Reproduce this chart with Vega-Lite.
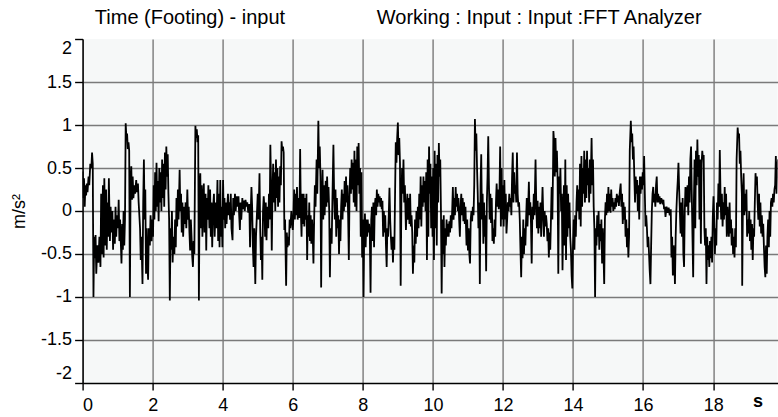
{
  "$schema": "https://vega.github.io/schema/vega-lite/v6.json",
  "width": 695,
  "height": 344,
  "autosize": {"type": "none"},
  "padding": {"left": 82.6, "top": 39, "right": 0, "bottom": 34},
  "background": "white",
  "config": {
    "font": "Liberation Sans",
    "view": {"fill": "#f6f8f8", "stroke": null}
  },
  "layer": [
    {
      "data": {"values": [
        {"t":0.00,"v":0.46},{"t":0.02,"v":0.15},{"t":0.04,"v":0.38},{"t":0.06,"v":0.05},{"t":0.08,"v":0.30},{"t":0.10,"v":0.18},{"t":0.12,"v":0.32},{"t":0.14,"v":0.22},{"t":0.17,"v":0.40},{"t":0.19,"v":0.30},
        {"t":0.22,"v":0.55},{"t":0.25,"v":0.50},{"t":0.27,"v":0.68},{"t":0.29,"v":0.55},{"t":0.31,"v":-1.00},{"t":0.33,"v":-0.30},{"t":0.35,"v":-0.55},{"t":0.37,"v":-0.28},{"t":0.39,"v":-0.73},{"t":0.42,"v":-0.40},
        {"t":0.45,"v":-0.60},{"t":0.48,"v":-0.30},{"t":0.51,"v":-0.65},{"t":0.53,"v":0.20},{"t":0.55,"v":-0.50},{"t":0.58,"v":0.30},{"t":0.60,"v":-0.54},{"t":0.62,"v":0.38},{"t":0.65,"v":-0.40},{"t":0.67,"v":0.25},
        {"t":0.69,"v":-0.45},{"t":0.71,"v":0.10},{"t":0.73,"v":-0.30},{"t":0.75,"v":0.38},{"t":0.78,"v":-0.35},{"t":0.80,"v":0.05},{"t":0.82,"v":-0.25},{"t":0.85,"v":0.00},{"t":0.87,"v":-0.45},{"t":0.89,"v":-0.10},
        {"t":0.92,"v":-0.38},{"t":0.94,"v":0.05},{"t":0.96,"v":-0.30},{"t":0.98,"v":-0.05},{"t":1.01,"v":-0.20},{"t":1.03,"v":0.13},{"t":1.05,"v":-0.35},{"t":1.07,"v":-0.10},{"t":1.09,"v":-0.35},{"t":1.11,"v":-0.61},
        {"t":1.13,"v":-0.15},{"t":1.15,"v":-0.45},{"t":1.17,"v":0.00},{"t":1.19,"v":-0.40},{"t":1.21,"v":-0.10},{"t":1.23,"v":1.02},{"t":1.25,"v":0.85},{"t":1.27,"v":0.90},{"t":1.29,"v":0.72},{"t":1.31,"v":0.80},
        {"t":1.33,"v":0.70},{"t":1.35,"v":-1.00},{"t":1.37,"v":0.30},{"t":1.39,"v":0.52},{"t":1.41,"v":0.13},{"t":1.43,"v":0.40},{"t":1.45,"v":0.15},{"t":1.48,"v":0.30},{"t":1.50,"v":0.20},{"t":1.53,"v":0.36},
        {"t":1.55,"v":0.22},{"t":1.58,"v":0.32},{"t":1.60,"v":0.10},{"t":1.62,"v":-0.05},{"t":1.64,"v":-0.20},{"t":1.66,"v":-0.57},{"t":1.68,"v":-0.30},{"t":1.71,"v":-0.85},{"t":1.73,"v":0.10},{"t":1.75,"v":0.60},
        {"t":1.77,"v":-0.10},{"t":1.79,"v":0.25},{"t":1.81,"v":-0.73},{"t":1.83,"v":-0.20},{"t":1.85,"v":-0.60},{"t":1.87,"v":-0.80},{"t":1.89,"v":-0.20},{"t":1.92,"v":-0.40},{"t":1.94,"v":-0.05},{"t":1.97,"v":-0.35},
        {"t":1.99,"v":-0.10},{"t":2.01,"v":-0.30},{"t":2.03,"v":0.30},{"t":2.05,"v":-0.10},{"t":2.07,"v":0.45},{"t":2.09,"v":0.00},{"t":2.11,"v":0.56},{"t":2.13,"v":0.05},{"t":2.15,"v":0.35},{"t":2.17,"v":-0.12},
        {"t":2.19,"v":0.50},{"t":2.21,"v":0.10},{"t":2.23,"v":0.45},{"t":2.25,"v":0.00},{"t":2.27,"v":0.60},{"t":2.29,"v":0.15},{"t":2.31,"v":0.55},{"t":2.33,"v":0.05},{"t":2.35,"v":0.68},{"t":2.37,"v":0.25},
        {"t":2.39,"v":0.75},{"t":2.41,"v":0.40},{"t":2.43,"v":0.66},{"t":2.45,"v":0.20},{"t":2.47,"v":-0.10},{"t":2.49,"v":-1.04},{"t":2.51,"v":-0.20},{"t":2.53,"v":-0.45},{"t":2.55,"v":0.00},{"t":2.57,"v":-0.60},
        {"t":2.59,"v":-0.30},{"t":2.62,"v":-0.50},{"t":2.64,"v":-0.10},{"t":2.66,"v":-0.42},{"t":2.68,"v":0.15},{"t":2.70,"v":-0.18},{"t":2.72,"v":0.25},{"t":2.74,"v":-0.10},{"t":2.77,"v":0.48},{"t":2.79,"v":0.00},
        {"t":2.81,"v":0.20},{"t":2.83,"v":-0.25},{"t":2.85,"v":0.10},{"t":2.87,"v":-0.30},{"t":2.90,"v":0.05},{"t":2.92,"v":-0.15},{"t":2.94,"v":0.10},{"t":2.96,"v":-0.20},{"t":2.99,"v":0.25},{"t":3.01,"v":-0.10},
        {"t":3.03,"v":0.05},{"t":3.05,"v":-0.25},{"t":3.07,"v":-0.46},{"t":3.09,"v":-0.10},{"t":3.11,"v":-0.30},{"t":3.13,"v":-0.53},{"t":3.15,"v":-0.65},{"t":3.17,"v":-0.35},{"t":3.19,"v":-0.50},{"t":3.22,"v":0.99},
        {"t":3.24,"v":0.85},{"t":3.26,"v":0.95},{"t":3.28,"v":0.80},{"t":3.30,"v":0.88},{"t":3.32,"v":-1.04},{"t":3.34,"v":0.20},{"t":3.36,"v":0.44},{"t":3.38,"v":-0.20},{"t":3.40,"v":0.30},{"t":3.42,"v":-0.30},
        {"t":3.44,"v":0.10},{"t":3.46,"v":0.32},{"t":3.48,"v":-0.25},{"t":3.51,"v":0.20},{"t":3.53,"v":-0.46},{"t":3.55,"v":0.15},{"t":3.57,"v":-0.10},{"t":3.59,"v":0.30},{"t":3.62,"v":-0.20},{"t":3.64,"v":0.25},
        {"t":3.66,"v":-0.30},{"t":3.68,"v":0.10},{"t":3.70,"v":-0.42},{"t":3.72,"v":0.00},{"t":3.75,"v":0.20},{"t":3.77,"v":-0.30},{"t":3.80,"v":0.10},{"t":3.82,"v":-0.20},{"t":3.85,"v":0.36},{"t":3.87,"v":-0.35},
        {"t":3.89,"v":0.20},{"t":3.91,"v":-0.42},{"t":3.93,"v":0.36},
        {"t":3.95,"v":-0.30},{"t":3.97,"v":0.05},{"t":3.99,"v":-0.42},{"t":4.01,"v":0.36},{"t":4.03,"v":-0.10},{"t":4.05,"v":0.15},{"t":4.07,"v":-0.20},{"t":4.09,"v":0.10},{"t":4.11,"v":-0.15},{"t":4.13,"v":0.05},
        {"t":4.15,"v":0.20},{"t":4.17,"v":-0.05},{"t":4.19,"v":0.10},{"t":4.21,"v":-0.10},{"t":4.23,"v":0.20},{"t":4.25,"v":-0.20},{"t":4.28,"v":-0.34},{"t":4.30,"v":0.15},{"t":4.32,"v":-0.05},{"t":4.35,"v":0.20},
        {"t":4.37,"v":0.00},{"t":4.40,"v":0.17},{"t":4.42,"v":0.05},{"t":4.45,"v":0.17},{"t":4.47,"v":-0.05},{"t":4.49,"v":-0.22},{"t":4.51,"v":0.10},{"t":4.53,"v":-0.10},{"t":4.56,"v":0.15},{"t":4.58,"v":0.02},
        {"t":4.60,"v":0.12},{"t":4.63,"v":0.00},{"t":4.65,"v":0.13},{"t":4.68,"v":0.05},{"t":4.70,"v":0.10},{"t":4.73,"v":-0.02},{"t":4.76,"v":0.08},{"t":4.78,"v":-0.42},{"t":4.80,"v":0.00},{"t":4.82,"v":0.28},
        {"t":4.84,"v":0.05},{"t":4.86,"v":-0.40},{"t":4.88,"v":-0.65},{"t":4.90,"v":-0.20},{"t":4.93,"v":-0.85},{"t":4.95,"v":-0.30},{"t":4.97,"v":-0.10},{"t":5.00,"v":0.20},{"t":5.02,"v":-0.10},{"t":5.05,"v":0.44},
        {"t":5.07,"v":-0.20},{"t":5.09,"v":-0.57},{"t":5.11,"v":-0.30},{"t":5.13,"v":-0.80},{"t":5.15,"v":0.00},{"t":5.17,"v":0.17},{"t":5.19,"v":0.05},{"t":5.21,"v":-0.30},{"t":5.23,"v":0.10},{"t":5.25,"v":-0.34},
        {"t":5.27,"v":0.05},{"t":5.30,"v":-0.20},{"t":5.32,"v":0.20},{"t":5.34,"v":-0.10},{"t":5.36,"v":0.77},{"t":5.38,"v":0.30},{"t":5.40,"v":-0.46},{"t":5.42,"v":0.20},{"t":5.44,"v":0.55},{"t":5.46,"v":0.10},
        {"t":5.48,"v":0.45},{"t":5.50,"v":0.00},{"t":5.52,"v":0.60},{"t":5.54,"v":0.15},{"t":5.56,"v":0.50},{"t":5.58,"v":0.05},{"t":5.60,"v":0.40},{"t":5.62,"v":0.10},{"t":5.64,"v":0.52},{"t":5.66,"v":0.30},
        {"t":5.68,"v":0.81},{"t":5.70,"v":0.70},{"t":5.72,"v":0.75},{"t":5.74,"v":0.68},{"t":5.76,"v":-0.22},{"t":5.78,"v":-0.10},{"t":5.81,"v":-0.87},{"t":5.83,"v":-0.25},{"t":5.85,"v":-0.42},{"t":5.87,"v":-0.30},
        {"t":5.89,"v":-0.40},{"t":5.91,"v":-0.10},{"t":5.93,"v":-0.20},{"t":5.96,"v":0.00},{"t":5.98,"v":-0.12},{"t":6.00,"v":-0.22},{"t":6.02,"v":-0.05},{"t":6.04,"v":0.25},{"t":6.06,"v":-0.10},{"t":6.08,"v":0.20},
        {"t":6.10,"v":-0.05},{"t":6.12,"v":0.28},{"t":6.14,"v":-0.10},{"t":6.17,"v":0.15},{"t":6.19,"v":-0.08},{"t":6.21,"v":0.72},{"t":6.23,"v":0.00},{"t":6.25,"v":-0.30},{"t":6.27,"v":0.20},{"t":6.29,"v":-0.15},
        {"t":6.31,"v":0.20},{"t":6.33,"v":-0.18},{"t":6.35,"v":0.15},{"t":6.37,"v":-0.10},{"t":6.39,"v":0.20},{"t":6.41,"v":-0.57},{"t":6.43,"v":-0.05},{"t":6.45,"v":-0.30},{"t":6.47,"v":0.10},{"t":6.49,"v":-0.35},
        {"t":6.51,"v":-0.05},{"t":6.53,"v":-0.38},{"t":6.55,"v":-0.10},{"t":6.57,"v":-0.30},{"t":6.59,"v":-0.61},{"t":6.61,"v":-0.10},{"t":6.63,"v":0.30},{"t":6.65,"v":0.05},{"t":6.68,"v":0.60},{"t":6.70,"v":0.20},
        {"t":6.73,"v":1.05},{"t":6.75,"v":0.50},{"t":6.77,"v":0.75},{"t":6.79,"v":0.40},{"t":6.81,"v":-0.89},{"t":6.83,"v":0.10},{"t":6.85,"v":0.48},{"t":6.87,"v":-0.10},{"t":6.89,"v":0.30},{"t":6.91,"v":-0.05},
        {"t":6.94,"v":0.35},{"t":6.96,"v":0.05},{"t":6.98,"v":0.40},{"t":7.00,"v":0.10},{"t":7.02,"v":0.28},{"t":7.04,"v":0.00},{"t":7.06,"v":-0.77},{"t":7.08,"v":-0.20},{"t":7.11,"v":-0.38},{"t":7.13,"v":0.10},
        {"t":7.16,"v":0.77},{"t":7.18,"v":0.20},{"t":7.20,"v":-0.10},{"t":7.22,"v":0.25},{"t":7.24,"v":-0.30},{"t":7.26,"v":0.15},{"t":7.28,"v":-0.20},{"t":7.30,"v":-0.05},{"t":7.32,"v":-0.50},{"t":7.34,"v":-0.10},
        {"t":7.36,"v":-0.35},{"t":7.38,"v":0.05},{"t":7.40,"v":0.25},{"t":7.42,"v":-0.10},{"t":7.44,"v":0.20},{"t":7.46,"v":0.00},{"t":7.48,"v":0.35},{"t":7.50,"v":0.05},{"t":7.52,"v":0.40},{"t":7.54,"v":0.10},
        {"t":7.56,"v":0.30},{"t":7.58,"v":-0.05},{"t":7.60,"v":-0.57},{"t":7.62,"v":0.20},{"t":7.64,"v":0.50},{"t":7.66,"v":0.20},{"t":7.68,"v":0.60},{"t":7.70,"v":0.25},{"t":7.72,"v":0.56},{"t":7.74,"v":0.10},
        {"t":7.76,"v":0.70},{"t":7.78,"v":0.05},{"t":7.80,"v":0.60},{"t":7.82,"v":0.00},{"t":7.84,"v":0.75},{"t":7.86,"v":0.30},{"t":7.88,"v":0.79},{"t":7.90,"v":0.20},{"t":7.92,"v":0.50},{"t":7.94,"v":-0.30},
        {"t":7.96,"v":0.45},{"t":7.98,"v":-0.54},{"t":8.00,"v":-0.10},
        {"t":8.02,"v":-1.00},{"t":8.04,"v":-0.20},{"t":8.06,"v":-0.03},{"t":8.08,"v":-0.42},{"t":8.10,"v":-0.10},{"t":8.12,"v":-0.30},{"t":8.14,"v":-0.10},{"t":8.16,"v":-0.25},{"t":8.18,"v":-0.15},{"t":8.20,"v":-0.30},
        {"t":8.22,"v":-0.95},{"t":8.24,"v":-0.10},{"t":8.26,"v":0.05},{"t":8.28,"v":-0.35},{"t":8.30,"v":0.10},{"t":8.32,"v":-0.42},{"t":8.34,"v":0.05},{"t":8.36,"v":0.15},{"t":8.38,"v":-0.05},{"t":8.40,"v":0.25},
        {"t":8.42,"v":0.05},{"t":8.44,"v":0.20},{"t":8.46,"v":0.10},{"t":8.48,"v":0.17},{"t":8.50,"v":0.05},{"t":8.52,"v":0.15},{"t":8.54,"v":0.02},{"t":8.56,"v":0.12},{"t":8.58,"v":-0.30},{"t":8.60,"v":0.00},
        {"t":8.62,"v":-0.25},{"t":8.64,"v":-0.05},{"t":8.66,"v":-0.40},{"t":8.68,"v":-0.65},{"t":8.70,"v":-0.20},{"t":8.72,"v":-0.30},{"t":8.74,"v":-0.05},{"t":8.76,"v":0.27},{"t":8.78,"v":-0.10},{"t":8.80,"v":-0.30},
        {"t":8.82,"v":-0.45},{"t":8.84,"v":-0.30},{"t":8.86,"v":-0.60},{"t":8.88,"v":-0.30},{"t":8.90,"v":-0.45},{"t":8.92,"v":0.20},{"t":8.94,"v":0.80},{"t":8.96,"v":0.56},{"t":8.98,"v":0.85},{"t":9.00,"v":1.03},
        {"t":9.02,"v":0.65},{"t":9.04,"v":0.85},{"t":9.06,"v":0.56},{"t":9.08,"v":-0.87},{"t":9.10,"v":0.10},{"t":9.12,"v":0.50},{"t":9.14,"v":0.20},{"t":9.16,"v":0.60},{"t":9.18,"v":0.10},{"t":9.20,"v":0.30},
        {"t":9.23,"v":-0.22},{"t":9.25,"v":0.00},{"t":9.27,"v":0.20},{"t":9.29,"v":-0.10},{"t":9.31,"v":0.15},{"t":9.33,"v":-0.15},{"t":9.35,"v":0.20},{"t":9.37,"v":-0.18},{"t":9.39,"v":-0.05},{"t":9.41,"v":-0.25},
        {"t":9.43,"v":-0.73},{"t":9.45,"v":-0.40},{"t":9.47,"v":-0.60},{"t":9.49,"v":-0.10},{"t":9.51,"v":-0.38},{"t":9.53,"v":0.00},{"t":9.55,"v":-0.30},{"t":9.57,"v":0.05},{"t":9.59,"v":-0.20},{"t":9.61,"v":0.20},
        {"t":9.63,"v":-0.10},{"t":9.65,"v":0.40},{"t":9.67,"v":-0.18},{"t":9.69,"v":0.30},{"t":9.71,"v":0.05},{"t":9.73,"v":0.40},{"t":9.75,"v":0.10},{"t":9.77,"v":0.35},{"t":9.79,"v":0.00},{"t":9.81,"v":0.45},
        {"t":9.83,"v":-0.57},{"t":9.85,"v":0.60},{"t":9.87,"v":-0.30},{"t":9.89,"v":0.75},{"t":9.91,"v":0.20},{"t":9.93,"v":0.55},{"t":9.95,"v":-0.20},{"t":9.97,"v":0.40},{"t":9.99,"v":-0.30},{"t":10.01,"v":0.50},
        {"t":10.03,"v":-0.57},{"t":10.05,"v":0.70},{"t":10.07,"v":-0.20},{"t":10.09,"v":0.55},{"t":10.11,"v":-0.40},{"t":10.13,"v":0.65},{"t":10.15,"v":0.10},{"t":10.17,"v":0.79},{"t":10.19,"v":0.40},{"t":10.21,"v":0.60},
        {"t":10.23,"v":0.00},{"t":10.25,"v":-0.96},{"t":10.27,"v":-0.10},{"t":10.29,"v":-0.50},{"t":10.31,"v":-0.05},{"t":10.33,"v":-0.65},{"t":10.35,"v":-0.20},{"t":10.37,"v":-0.40},{"t":10.39,"v":-0.10},{"t":10.41,"v":-0.30},
        {"t":10.43,"v":-0.15},{"t":10.45,"v":-0.30},{"t":10.47,"v":-0.12},{"t":10.49,"v":-0.25},{"t":10.51,"v":-0.05},{"t":10.53,"v":-0.20},{"t":10.55,"v":0.00},{"t":10.57,"v":0.28},{"t":10.59,"v":-0.10},{"t":10.61,"v":0.15},
        {"t":10.63,"v":-0.05},{"t":10.65,"v":0.28},{"t":10.67,"v":0.05},{"t":10.69,"v":0.20},{"t":10.71,"v":0.00},{"t":10.73,"v":0.15},{"t":10.75,"v":-0.10},{"t":10.77,"v":-0.30},{"t":10.79,"v":0.05},{"t":10.81,"v":0.20},
        {"t":10.83,"v":-0.05},{"t":10.85,"v":0.15},{"t":10.87,"v":-0.12},{"t":10.89,"v":0.10},{"t":10.91,"v":-0.15},{"t":10.93,"v":0.05},{"t":10.96,"v":-0.40},{"t":10.98,"v":-0.10},{"t":11.00,"v":-0.46},{"t":11.02,"v":-0.20},
        {"t":11.04,"v":-0.50},{"t":11.06,"v":-0.61},{"t":11.08,"v":-0.10},{"t":11.10,"v":0.00},{"t":11.12,"v":-0.12},{"t":11.14,"v":0.05},{"t":11.16,"v":-0.05},{"t":11.18,"v":0.30},{"t":11.20,"v":1.07},{"t":11.22,"v":0.70},
        {"t":11.24,"v":0.90},{"t":11.26,"v":0.50},{"t":11.28,"v":0.20},{"t":11.30,"v":-0.20},{"t":11.32,"v":0.10},{"t":11.34,"v":-0.85},{"t":11.36,"v":0.30},{"t":11.38,"v":0.66},{"t":11.40,"v":-0.10},{"t":11.42,"v":0.20},
        {"t":11.44,"v":-0.38},{"t":11.46,"v":0.10},{"t":11.48,"v":-0.30},{"t":11.50,"v":-0.05},{"t":11.52,"v":-0.70},{"t":11.54,"v":0.10},{"t":11.56,"v":0.40},{"t":11.58,"v":0.87},{"t":11.60,"v":0.30},{"t":11.62,"v":-0.10},
        {"t":11.64,"v":0.20},{"t":11.66,"v":-0.14},{"t":11.68,"v":0.15},{"t":11.70,"v":-0.35},{"t":11.72,"v":-0.20},{"t":11.74,"v":-0.38},{"t":11.76,"v":-0.10},{"t":11.78,"v":-0.30},{"t":11.80,"v":0.10},{"t":11.82,"v":0.32},
        {"t":11.84,"v":0.05},{"t":11.86,"v":0.25},{"t":11.88,"v":0.02},{"t":11.90,"v":0.20},
        {"t":11.92,"v":0.75},{"t":11.94,"v":-0.18},{"t":11.96,"v":0.50},{"t":11.98,"v":-0.10},{"t":12.00,"v":0.30},{"t":12.02,"v":-0.18},{"t":12.04,"v":0.36},{"t":12.06,"v":-0.10},{"t":12.08,"v":0.20},{"t":12.10,"v":-0.26},
        {"t":12.12,"v":-0.10},{"t":12.14,"v":0.10},{"t":12.16,"v":0.00},{"t":12.18,"v":0.20},{"t":12.20,"v":0.05},{"t":12.22,"v":0.15},{"t":12.24,"v":-0.05},{"t":12.26,"v":0.40},{"t":12.28,"v":0.68},{"t":12.30,"v":0.10},
        {"t":12.32,"v":0.45},{"t":12.34,"v":0.20},{"t":12.36,"v":0.30},{"t":12.38,"v":0.10},{"t":12.40,"v":0.68},{"t":12.42,"v":0.20},{"t":12.44,"v":0.05},{"t":12.46,"v":0.10},{"t":12.48,"v":-0.10},{"t":12.50,"v":-0.45},
        {"t":12.52,"v":-0.77},{"t":12.54,"v":-0.30},{"t":12.56,"v":-0.55},{"t":12.58,"v":-0.10},{"t":12.60,"v":-0.50},{"t":12.62,"v":-0.20},{"t":12.64,"v":-0.40},{"t":12.66,"v":-0.10},{"t":12.68,"v":0.15},{"t":12.70,"v":-0.18},
        {"t":12.72,"v":0.05},{"t":12.74,"v":0.34},{"t":12.76,"v":-0.05},{"t":12.78,"v":0.10},{"t":12.80,"v":-0.15},{"t":12.82,"v":-0.61},{"t":12.84,"v":0.05},{"t":12.86,"v":-0.10},{"t":12.88,"v":0.20},{"t":12.90,"v":-0.05},
        {"t":12.93,"v":0.60},{"t":12.95,"v":0.10},{"t":12.97,"v":-0.20},{"t":12.99,"v":0.12},{"t":13.01,"v":-0.26},{"t":13.03,"v":0.05},{"t":13.05,"v":-0.20},{"t":13.07,"v":0.10},{"t":13.09,"v":-0.30},{"t":13.11,"v":0.00},
        {"t":13.13,"v":0.28},{"t":13.15,"v":-0.05},{"t":13.17,"v":-0.30},{"t":13.19,"v":0.00},{"t":13.21,"v":-0.18},{"t":13.23,"v":-0.05},{"t":13.25,"v":-0.15},{"t":13.27,"v":-0.35},{"t":13.29,"v":-0.20},{"t":13.31,"v":-0.54},
        {"t":13.33,"v":-0.25},{"t":13.35,"v":-0.45},{"t":13.37,"v":-0.10},{"t":13.39,"v":0.28},{"t":13.41,"v":-0.10},{"t":13.43,"v":0.50},{"t":13.44,"v":0.93},{"t":13.46,"v":0.80},{"t":13.48,"v":0.40},{"t":13.50,"v":0.85},
        {"t":13.52,"v":0.45},{"t":13.54,"v":0.70},{"t":13.56,"v":0.35},{"t":13.58,"v":-0.73},{"t":13.60,"v":0.40},{"t":13.62,"v":0.20},{"t":13.64,"v":0.50},{"t":13.66,"v":0.00},{"t":13.68,"v":0.20},{"t":13.70,"v":-0.69},
        {"t":13.72,"v":-0.10},{"t":13.74,"v":0.30},{"t":13.76,"v":-0.40},{"t":13.78,"v":0.60},{"t":13.80,"v":-0.57},{"t":13.82,"v":0.30},{"t":13.84,"v":-0.30},{"t":13.86,"v":0.20},{"t":13.88,"v":-0.20},{"t":13.90,"v":0.10},
        {"t":13.92,"v":-0.30},{"t":13.94,"v":-0.45},{"t":13.96,"v":-0.75},{"t":13.98,"v":-0.90},{"t":14.00,"v":-0.40},{"t":14.02,"v":-0.10},{"t":14.04,"v":-0.45},{"t":14.06,"v":-0.05},{"t":14.08,"v":-0.30},{"t":14.10,"v":0.10},
        {"t":14.12,"v":0.30},{"t":14.14,"v":0.00},{"t":14.16,"v":0.25},{"t":14.18,"v":-0.10},{"t":14.20,"v":0.55},{"t":14.22,"v":-0.18},{"t":14.24,"v":0.64},{"t":14.26,"v":0.05},{"t":14.28,"v":0.50},{"t":14.30,"v":0.20},
        {"t":14.32,"v":0.70},{"t":14.34,"v":0.10},{"t":14.36,"v":0.60},{"t":14.38,"v":0.15},{"t":14.40,"v":0.70},{"t":14.42,"v":0.30},{"t":14.44,"v":0.50},{"t":14.46,"v":0.10},{"t":14.48,"v":0.60},{"t":14.50,"v":0.20},
        {"t":14.53,"v":0.85},{"t":14.55,"v":0.30},{"t":14.57,"v":0.60},{"t":14.59,"v":0.05},{"t":14.61,"v":-0.20},{"t":14.63,"v":-1.00},{"t":14.65,"v":-0.20},{"t":14.67,"v":-0.40},{"t":14.69,"v":-0.05},{"t":14.71,"v":-0.30},
        {"t":14.73,"v":0.00},{"t":14.75,"v":-0.45},{"t":14.77,"v":-0.15},{"t":14.79,"v":-0.35},{"t":14.81,"v":-0.10},{"t":14.83,"v":-0.61},{"t":14.85,"v":-0.20},{"t":14.87,"v":-0.50},{"t":14.89,"v":-0.85},{"t":14.91,"v":-0.10},
        {"t":14.93,"v":0.10},{"t":14.95,"v":-0.05},{"t":14.97,"v":0.20},{"t":14.99,"v":-0.02},{"t":15.01,"v":0.28},{"t":15.03,"v":0.00},{"t":15.05,"v":0.20},{"t":15.07,"v":-0.02},{"t":15.09,"v":0.25},{"t":15.11,"v":0.05},
        {"t":15.13,"v":0.15},{"t":15.15,"v":0.00},{"t":15.17,"v":0.10},{"t":15.19,"v":0.02},{"t":15.21,"v":0.15},{"t":15.23,"v":0.05},{"t":15.25,"v":0.20},{"t":15.27,"v":0.10},{"t":15.29,"v":0.18},{"t":15.31,"v":0.06},
        {"t":15.33,"v":0.20},{"t":15.36,"v":0.32},{"t":15.38,"v":0.05},{"t":15.40,"v":0.20},{"t":15.42,"v":-0.15},{"t":15.44,"v":0.10},{"t":15.46,"v":-0.10},{"t":15.48,"v":0.05},{"t":15.50,"v":-0.30},{"t":15.52,"v":-0.10},
        {"t":15.54,"v":-0.42},{"t":15.56,"v":-0.20},{"t":15.58,"v":-0.54},{"t":15.60,"v":-0.30},{"t":15.62,"v":0.70},{"t":15.65,"v":1.05},{"t":15.67,"v":0.80},{"t":15.69,"v":0.90},{"t":15.71,"v":0.60},{"t":15.73,"v":0.75},
        {"t":15.75,"v":0.40},{"t":15.77,"v":0.10},{"t":15.79,"v":0.40},{"t":15.81,"v":0.20},{"t":15.83,"v":0.36},{"t":15.85,"v":0.00},{"t":15.87,"v":0.30},{"t":15.89,"v":-0.10},{"t":15.91,"v":0.40},
        {"t":15.93,"v":0.20},{"t":15.95,"v":0.40},{"t":15.97,"v":0.25},{"t":15.99,"v":0.45},{"t":16.01,"v":0.30},{"t":16.03,"v":0.64},{"t":16.05,"v":0.20},{"t":16.07,"v":-0.18},{"t":16.09,"v":-0.05},{"t":16.11,"v":-0.20},
        {"t":16.13,"v":-0.42},{"t":16.15,"v":-0.30},{"t":16.17,"v":-0.50},{"t":16.19,"v":-0.70},{"t":16.21,"v":-0.85},{"t":16.23,"v":-0.40},{"t":16.25,"v":0.00},{"t":16.27,"v":0.20},{"t":16.29,"v":0.28},{"t":16.31,"v":0.10},
        {"t":16.33,"v":0.20},{"t":16.35,"v":0.05},{"t":16.37,"v":0.30},{"t":16.39,"v":0.40},{"t":16.41,"v":0.10},{"t":16.43,"v":0.20},{"t":16.45,"v":0.10},{"t":16.47,"v":0.17},{"t":16.49,"v":0.08},{"t":16.52,"v":0.15},
        {"t":16.55,"v":0.10},{"t":16.58,"v":0.13},{"t":16.60,"v":0.02},{"t":16.62,"v":0.05},{"t":16.64,"v":-0.07},{"t":16.67,"v":0.05},{"t":16.70,"v":-0.02},{"t":16.73,"v":0.04},{"t":16.76,"v":-0.05},{"t":16.79,"v":0.02},
        {"t":16.81,"v":-0.54},{"t":16.83,"v":-0.30},{"t":16.85,"v":-0.75},{"t":16.87,"v":-0.40},{"t":16.89,"v":-0.55},{"t":16.91,"v":-0.85},{"t":16.93,"v":-0.30},{"t":16.95,"v":0.00},{"t":16.97,"v":0.20},{"t":16.99,"v":0.35},
        {"t":17.01,"v":0.56},{"t":17.03,"v":0.25},{"t":17.05,"v":0.00},{"t":17.07,"v":-0.26},{"t":17.09,"v":0.10},{"t":17.11,"v":-0.30},{"t":17.13,"v":0.15},{"t":17.15,"v":-0.50},{"t":17.17,"v":-0.65},{"t":17.19,"v":0.00},
        {"t":17.21,"v":0.28},{"t":17.23,"v":0.05},{"t":17.25,"v":0.20},{"t":17.27,"v":0.30},{"t":17.29,"v":-0.05},{"t":17.31,"v":0.40},{"t":17.33,"v":0.10},{"t":17.35,"v":0.60},{"t":17.37,"v":0.75},{"t":17.39,"v":0.20},
        {"t":17.41,"v":-0.30},{"t":17.43,"v":-0.77},{"t":17.45,"v":0.10},{"t":17.47,"v":0.60},{"t":17.49,"v":-0.20},{"t":17.51,"v":0.70},{"t":17.53,"v":0.30},{"t":17.55,"v":0.83},{"t":17.57,"v":0.40},{"t":17.59,"v":0.65},
        {"t":17.61,"v":-0.10},{"t":17.63,"v":0.60},{"t":17.65,"v":-0.38},{"t":17.67,"v":0.55},{"t":17.69,"v":0.70},{"t":17.71,"v":0.60},{"t":17.73,"v":0.65},{"t":17.75,"v":-0.20},{"t":17.77,"v":-0.40},{"t":17.79,"v":-0.20},
        {"t":17.81,"v":-0.85},{"t":17.83,"v":-0.30},{"t":17.85,"v":-0.57},{"t":17.87,"v":-0.40},{"t":17.89,"v":-0.65},{"t":17.91,"v":-0.35},{"t":17.93,"v":-0.55},{"t":17.95,"v":-0.30},{"t":17.97,"v":-0.60},{"t":17.99,"v":-0.07},
        {"t":18.01,"v":0.17},{"t":18.03,"v":-0.10},{"t":18.05,"v":-0.50},{"t":18.07,"v":-0.20},{"t":18.09,"v":-0.40},{"t":18.11,"v":0.10},{"t":18.13,"v":-0.10},{"t":18.15,"v":0.32},{"t":18.17,"v":0.05},{"t":18.19,"v":0.71},
        {"t":18.21,"v":0.20},{"t":18.23,"v":-0.10},{"t":18.25,"v":0.20},{"t":18.27,"v":-0.18},{"t":18.29,"v":0.10},{"t":18.31,"v":-0.10},{"t":18.33,"v":0.28},{"t":18.35,"v":-0.05},{"t":18.37,"v":0.20},{"t":18.39,"v":-0.30},
        {"t":18.41,"v":0.05},{"t":18.43,"v":-0.15},{"t":18.45,"v":-0.30},{"t":18.47,"v":0.10},{"t":18.49,"v":-0.26},{"t":18.51,"v":-0.10},{"t":18.53,"v":-0.40},{"t":18.55,"v":-0.20},{"t":18.57,"v":-0.50},{"t":18.59,"v":-0.30},
        {"t":18.61,"v":-0.54},{"t":18.63,"v":-0.20},{"t":18.65,"v":-0.42},{"t":18.67,"v":0.60},{"t":18.70,"v":0.97},{"t":18.72,"v":0.85},{"t":18.74,"v":0.90},{"t":18.76,"v":0.55},{"t":18.78,"v":0.70},{"t":18.80,"v":0.40},
        {"t":18.82,"v":0.20},{"t":18.83,"v":-0.87},{"t":18.85,"v":0.10},{"t":18.87,"v":0.44},{"t":18.89,"v":-0.05},{"t":18.91,"v":0.20},{"t":18.93,"v":0.00},{"t":18.95,"v":0.25},{"t":18.97,"v":-0.30},{"t":18.99,"v":-0.10},
        {"t":19.01,"v":-0.26},{"t":19.03,"v":0.00},{"t":19.05,"v":-0.35},{"t":19.07,"v":-0.10},{"t":19.09,"v":-0.45},{"t":19.11,"v":-0.15},{"t":19.13,"v":-0.57},{"t":19.15,"v":-0.20},{"t":19.17,"v":-0.30},{"t":19.19,"v":0.10},
        {"t":19.21,"v":0.44},{"t":19.23,"v":0.30},{"t":19.25,"v":0.40},{"t":19.27,"v":0.10},{"t":19.29,"v":-0.10},{"t":19.31,"v":0.20},{"t":19.33,"v":-0.18},{"t":19.35,"v":0.10},{"t":19.37,"v":-0.26},{"t":19.39,"v":-0.05},
        {"t":19.41,"v":-0.30},{"t":19.43,"v":-0.15},{"t":19.45,"v":-0.42},{"t":19.47,"v":-0.65},{"t":19.49,"v":-0.77},{"t":19.51,"v":-0.40},{"t":19.53,"v":-0.73},{"t":19.55,"v":-0.30},{"t":19.57,"v":-0.10},{"t":19.59,"v":-0.42},
        {"t":19.61,"v":0.00},{"t":19.63,"v":-0.30},{"t":19.65,"v":0.10},{"t":19.67,"v":0.15},{"t":19.69,"v":0.05},{"t":19.71,"v":0.20},{"t":19.73,"v":0.10},{"t":19.75,"v":0.25},{"t":19.77,"v":0.30},{"t":19.79,"v":0.64},
        {"t":19.81,"v":0.20},{"t":19.83,"v":0.45},{"t":19.85,"v":0.60}
      ]},
      "mark": {"type": "line", "color": "black", "strokeWidth": 1.8, "clip": true},
      "encoding": {
        "x": {
          "field": "t",
          "type": "quantitative",
          "scale": {"domain": [0, 19.84], "nice": false, "zero": false},
          "axis": {
            "values": [0, 2, 4, 6, 8, 10, 12, 14, 16, 18],
            "labelExpr": "'' + datum.value",
            "grid": true,
            "gridColor": "#7a7a7a",
            "gridWidth": 1.4,
            "domainColor": "black",
            "domainWidth": 1.4,
            "tickColor": "black",
            "tickWidth": 1.4,
            "tickSize": 7,
            "labelFont": "Liberation Sans",
            "labelFontSize": 18,
            "labelColor": "black",
            "labelPadding": 7,
            "labelFlush": true,
            "title": "s",
            "titleFont": "Liberation Sans",
            "titleFontSize": 18,
            "titleFontWeight": "bold",
            "titleColor": "black",
            "titleX": 675,
            "titleY": 24,
            "titleAlign": "center",
            "titleBaseline": "alphabetic"
          }
        },
        "y": {
          "field": "v",
          "type": "quantitative",
          "scale": {"domain": [-2, 2], "nice": false},
          "axis": {
            "values": [-2, -1.5, -1, -0.5, 0, 0.5, 1, 1.5, 2],
            "labelExpr": "'' + datum.value",
            "grid": true,
            "gridColor": {"condition": {"test": "abs(datum.value) == 2", "value": "transparent"}, "value": "#7a7a7a"},
            "gridWidth": 1.4,
            "domainColor": "black",
            "domainWidth": 1.4,
            "tickColor": "black",
            "tickWidth": 1.4,
            "tickSize": 8,
            "labelFont": "Liberation Sans",
            "labelFontSize": 18,
            "labelColor": "black",
            "labelPadding": 3,
            "labelFlush": true,
            "title": "m/s²",
            "titleFont": "Liberation Sans",
            "titleFontSize": 18,
            "titleFontWeight": "normal",
            "titleColor": "black",
            "titleX": -58,
            "titleY": 172,
            "titleAlign": "center",
            "titleBaseline": "alphabetic"
          }
        }
      }
    },
    {
      "data": {"values": [{"label": "Time (Footing) - input"}]},
      "mark": {"type": "text", "align": "left", "baseline": "alphabetic", "dy": -15, "fontSize": 20, "font": "Liberation Sans", "color": "black"},
      "encoding": {
        "x": {"datum": 0.35},
        "y": {"datum": 2},
        "text": {"field": "label"}
      }
    },
    {
      "data": {"values": [{"label": "Working : Input : Input :FFT Analyzer"}]},
      "mark": {"type": "text", "align": "left", "baseline": "alphabetic", "dy": -15, "fontSize": 20, "font": "Liberation Sans", "color": "black"},
      "encoding": {
        "x": {"datum": 8.4},
        "y": {"datum": 2},
        "text": {"field": "label"}
      }
    }
  ]
}
